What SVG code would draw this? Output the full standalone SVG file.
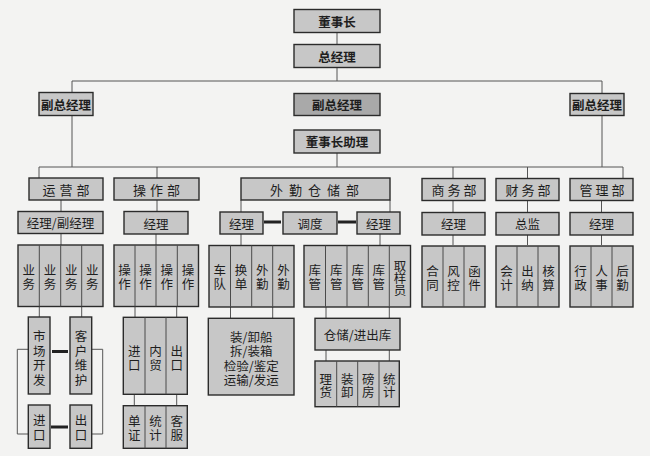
<svg xmlns="http://www.w3.org/2000/svg" width="650" height="456" viewBox="0 0 650 456">
<style>
.bg{fill:#f3f3f2}
.b{fill:#c7c7c7;stroke:#2b2b2b;stroke-width:1.4}
.bd{fill:#a9a9a9;stroke:#2b2b2b;stroke-width:1.4}
.dv{stroke:#4a4a4a;stroke-width:1}
.ln{stroke:#555;stroke-width:1;fill:none}
.tk{stroke:#222;stroke-width:3}
text{font-family:"Noto Sans CJK SC","Noto Sans CJK JP",sans-serif;font-size:12.5px;fill:#1e1e1e;text-anchor:middle;dominant-baseline:central}
.t{font-weight:bold;font-size:12.5px}
.d{font-size:13px;letter-spacing:4px}
</style>
<rect class="bg" x="0" y="0" width="650" height="456"/>
<g id="connectors">
<path class="ln" d="M337 32.5V44.5M337 67.5V81M72 81H602M72 81V92.5M602 81V93.5M72 115.5V167M602 115.5V167M337 153V167M39 167H623"/>
<path class="ln" d="M39 167V178M157 167V178M453 167V178M527.5 167V178M623 167V178"/>
<path class="ln" d="M61 200V211.5M157 200V211.5M241 200V212M390 200V212M453 200V212M527.5 200V212M601.5 200V212"/>
<path class="ln" d="M61 233.5V245M156 234V245M241 234V245M380 234V245M453 235V245M527.5 235V245M601.5 235V245"/>
<path class="ln" d="M39.3 306.5V317M81.7 306.5V317M135 306.5V317M176.7 306.5V317M230.5 306.5V318M272.7 306.5V318M326 306.5V318M389.3 306.5V318"/>
<path class="ln" d="M134.3 394.3V405.7M176.7 394.3V405.7M326 350V361M389.3 350V361"/>
<path class="ln" d="M28.3 349.3H17.3V434H28.3M91.7 349.3H102.7V434H91.7"/>
<path class="tk" d="M264 222H281M338 222H356M52 351.5H68M51 427H68"/>
</g>
<g id="n-chairman"><rect class="b" x="294" y="9.5" width="86" height="23"/><text class="t" x="337" y="21">董事长</text></g>
<g id="n-gm"><rect class="b" x="294" y="44.5" width="86" height="23"/><text class="t" x="337" y="56">总经理</text></g>
<g id="n-vp1"><rect class="b" x="39" y="92.5" width="54" height="23"/><text class="t" x="66" y="104">副总经理</text></g>
<g id="n-vp2"><rect class="bd" x="294" y="93.5" width="86" height="22"/><text class="t" x="337" y="104.5">副总经理</text></g>
<g id="n-vp3"><rect class="b" x="570" y="93.5" width="54" height="22"/><text class="t" x="597" y="104.5">副总经理</text></g>
<g id="n-assist"><rect class="b" x="294" y="130" width="86" height="23"/><text class="t" x="337" y="141.5">董事长助理</text></g>

<g id="d-yunying"><rect class="b" x="29" y="178" width="74" height="22"/><text class="d" x="68" y="189">运营部</text></g>
<g id="d-caozuo"><rect class="b" x="114" y="178" width="85" height="22"/><text class="d" x="158.5" y="189">操作部</text></g>
<g id="d-waiqin"><rect class="b" x="241" y="178" width="149" height="22"/><text class="d" x="317.5" y="189" style="letter-spacing:6px">外勤仓储部</text></g>
<g id="d-shangwu"><rect class="b" x="422" y="178.5" width="63" height="22"/><text class="d" x="455.5" y="189.5" style="letter-spacing:3px">商务部</text></g>
<g id="d-caiwu"><rect class="b" x="496" y="178.5" width="63" height="22"/><text class="d" x="529.5" y="189.5" style="letter-spacing:3px">财务部</text></g>
<g id="d-guanli"><rect class="b" x="570" y="178.5" width="63" height="22"/><text class="d" x="603.5" y="189.5" style="letter-spacing:3px">管理部</text></g>

<g id="m-yunying"><rect class="b" x="18" y="211.5" width="85" height="22"/><text x="60.5" y="222.5">经理/副经理</text></g>
<g id="m-caozuo"><rect class="b" x="124" y="211.5" width="64" height="22.5"/><text x="156" y="223">经理</text></g>
<g id="m-waiqin-l"><rect class="b" x="220" y="212" width="43" height="22"/><text x="241.5" y="223">经理</text></g>
<g id="m-diaodu"><rect class="b" x="283" y="212" width="54" height="22"/><text x="310" y="223">调度</text></g>
<g id="m-waiqin-r"><rect class="b" x="357" y="212" width="43" height="22"/><text x="378.5" y="223">经理</text></g>
<g id="m-shangwu"><rect class="b" x="422" y="212.5" width="63" height="22.5"/><text x="453.5" y="223.5">经理</text></g>
<g id="m-caiwu"><rect class="b" x="496" y="212.5" width="63" height="22.5"/><text x="527.5" y="223.5">总监</text></g>
<g id="m-guanli"><rect class="b" x="570" y="212.5" width="63" height="22.5"/><text x="601.5" y="223.5">经理</text></g>

<g id="s-yewu"><rect class="b" x="18" y="245" width="85" height="61.5"/><path class="dv" d="M39.3 245V306.5M60.7 245V306.5M81.7 245V306.5"/>
<text x="28.7" y="269.5">业<tspan x="28.7" dy="13.5">务</tspan></text>
<text x="50" y="269.5">业<tspan x="50" dy="13.5">务</tspan></text>
<text x="71.2" y="269.5">业<tspan x="71.2" dy="13.5">务</tspan></text>
<text x="92.3" y="269.5">业<tspan x="92.3" dy="13.5">务</tspan></text></g>
<g id="s-caozuo"><rect class="b" x="114" y="245" width="84.5" height="61.5"/><path class="dv" d="M135 245V306.5M156 245V306.5M177.3 245V306.5"/>
<text x="124.5" y="269.5">操<tspan x="124.5" dy="13.5">作</tspan></text>
<text x="145.5" y="269.5">操<tspan x="145.5" dy="13.5">作</tspan></text>
<text x="166.7" y="269.5">操<tspan x="166.7" dy="13.5">作</tspan></text>
<text x="188" y="269.5">操<tspan x="188" dy="13.5">作</tspan></text></g>
<g id="s-waiqin-l"><rect class="b" x="209" y="245.5" width="85" height="61.5"/><path class="dv" d="M230.5 245.5V307M251.7 245.5V307M272.7 245.5V307"/>
<text x="219.8" y="269.5">车<tspan x="219.8" dy="13.5">队</tspan></text>
<text x="241.1" y="269.5">换<tspan x="241.1" dy="13.5">单</tspan></text>
<text x="262.2" y="269.5">外<tspan x="262.2" dy="13.5">勤</tspan></text>
<text x="283.4" y="269.5">外<tspan x="283.4" dy="13.5">勤</tspan></text></g>
<g id="s-waiqin-r"><rect class="b" x="304" y="245.5" width="106.5" height="61.5"/><path class="dv" d="M325.5 245.5V307M347 245.5V307M368.3 245.5V307M389.3 245.5V307"/>
<text x="314.8" y="269.5">库<tspan x="314.8" dy="13.5">管</tspan></text>
<text x="336.2" y="269.5">库<tspan x="336.2" dy="13.5">管</tspan></text>
<text x="357.7" y="269.5">库<tspan x="357.7" dy="13.5">管</tspan></text>
<text x="378.8" y="269.5">库<tspan x="378.8" dy="13.5">管</tspan></text>
<text x="399.9" y="265">取<tspan x="399.9" dy="12">样</tspan><tspan x="399.9" dy="12">员</tspan></text></g>
<g id="s-shangwu"><rect class="b" x="422" y="246" width="63" height="61"/><path class="dv" d="M443 246V307M464 246V307"/>
<text x="432.5" y="270">合<tspan x="432.5" dy="13.5">同</tspan></text>
<text x="453.5" y="270">风<tspan x="453.5" dy="13.5">控</tspan></text>
<text x="474.5" y="270">函<tspan x="474.5" dy="13.5">件</tspan></text></g>
<g id="s-caiwu"><rect class="b" x="496" y="246" width="63" height="61"/><path class="dv" d="M517 246V307M538 246V307"/>
<text x="506.5" y="270">会<tspan x="506.5" dy="13.5">计</tspan></text>
<text x="527.5" y="270">出<tspan x="527.5" dy="13.5">纳</tspan></text>
<text x="548.5" y="270">核<tspan x="548.5" dy="13.5">算</tspan></text></g>
<g id="s-guanli"><rect class="b" x="570" y="246" width="63" height="61"/><path class="dv" d="M591 246V307M612 246V307"/>
<text x="580.5" y="270">行<tspan x="580.5" dy="13.5">政</tspan></text>
<text x="601.5" y="270">人<tspan x="601.5" dy="13.5">事</tspan></text>
<text x="622.5" y="270">后<tspan x="622.5" dy="13.5">勤</tspan></text></g>

<g id="y-shichang"><rect class="b" x="28.3" y="317" width="21.7" height="77"/><text x="39.2" y="335">市<tspan x="39.2" dy="14.5">场</tspan><tspan x="39.2" dy="14.5">开</tspan><tspan x="39.2" dy="14.5">发</tspan></text></g>
<g id="y-kehu"><rect class="b" x="70" y="317" width="21.7" height="77"/><text x="80.9" y="335">客<tspan x="80.9" dy="14.5">户</tspan><tspan x="80.9" dy="14.5">维</tspan><tspan x="80.9" dy="14.5">护</tspan></text></g>
<g id="y-jinkou"><rect class="b" x="28.3" y="405" width="21.7" height="43.3"/><text x="39.2" y="419.5">进<tspan x="39.2" dy="14">口</tspan></text></g>
<g id="y-chukou"><rect class="b" x="70" y="405" width="21.7" height="43.3"/><text x="80.9" y="419.5">出<tspan x="80.9" dy="14">口</tspan></text></g>

<g id="c-trade"><rect class="b" x="123.3" y="317.3" width="64" height="77"/><path class="dv" d="M145 317.3V394.3M166 317.3V394.3"/>
<text x="134.2" y="350">进<tspan x="134.2" dy="13.5">口</tspan></text>
<text x="155.5" y="350">内<tspan x="155.5" dy="13.5">贸</tspan></text>
<text x="176.7" y="350">出<tspan x="176.7" dy="13.5">口</tspan></text></g>
<g id="c-service"><rect class="b" x="123.3" y="405.7" width="64" height="42.6"/><path class="dv" d="M145 405.7V448.3M166 405.7V448.3"/>
<text x="134.2" y="420">单<tspan x="134.2" dy="13.5">证</tspan></text>
<text x="155.5" y="420">统<tspan x="155.5" dy="13.5">计</tspan></text>
<text x="176.7" y="420">客<tspan x="176.7" dy="13.5">服</tspan></text></g>

<g id="w-ship"><rect class="b" x="208.3" y="318.3" width="85.7" height="76.7"/>
<text x="251.2" y="336">装/卸船<tspan x="251.2" dy="14.3">拆/装箱</tspan><tspan x="251.2" dy="14.3">检验/鉴定</tspan><tspan x="251.2" dy="14.3">运输/发运</tspan></text></g>
<g id="w-store"><rect class="b" x="315" y="318.3" width="85" height="31.7"/><text x="357.5" y="334.2">仓储/进出库</text></g>
<g id="w-tally"><rect class="b" x="315" y="361" width="84.3" height="45.7"/><path class="dv" d="M336.7 361V406.7M357.7 361V406.7M379 361V406.7"/>
<text x="325.8" y="378">理<tspan x="325.8" dy="12.5">货</tspan></text>
<text x="347.2" y="378">装<tspan x="347.2" dy="12.5">卸</tspan></text>
<text x="368.3" y="378">磅<tspan x="368.3" dy="12.5">房</tspan></text>
<text x="389.2" y="378">统<tspan x="389.2" dy="12.5">计</tspan></text></g>
</svg>
